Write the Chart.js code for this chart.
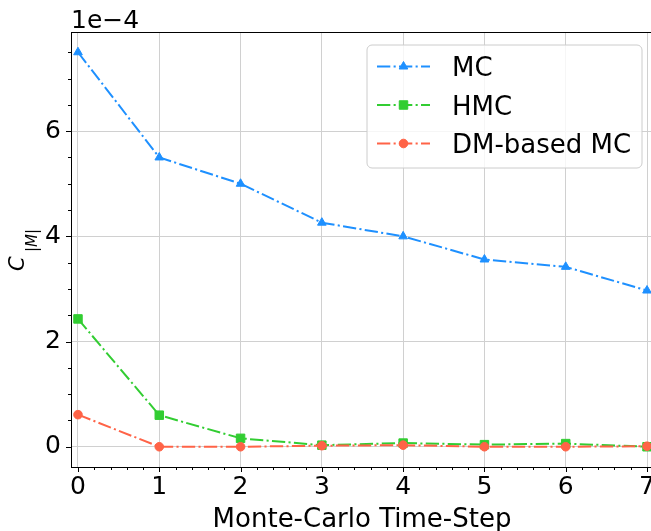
<!DOCTYPE html>
<html><head><meta charset="utf-8">
<script src="https://cdn.jsdelivr.net/npm/chart.js@4"></script>
<style>
html,body{margin:0;padding:0;overflow:hidden;background:#fff;width:651px;height:531px}
#wrap{width:665px;height:531px}
</style></head>
<body><div id="wrap"><canvas id="c" width="665" height="531"></canvas></div>
<script>
// ---- data ----
const steps = [0, 1, 2, 3, 4, 5, 6, 7];
const mcValues  = [7.50e-4, 5.50e-4, 5.00e-4, 4.26e-4, 4.00e-4, 3.56e-4, 3.42e-4, 2.97e-4];
const hmcValues = [2.43e-4, 0.60e-4, 0.16e-4, 0.03e-4, 0.07e-4, 0.04e-4, 0.06e-4, 0.00e-4];
const dmValues  = [0.61e-4, 0.00e-4, 0.00e-4, 0.02e-4, 0.03e-4, 0.00e-4, 0.00e-4, 0.01e-4];
const seriesLabels = ['MC', 'HMC', 'DM-based MC'];
const xTickValues = [0, 1, 2, 3, 4, 5, 6, 7];
const yTickValues = [0, 2e-4, 4e-4, 6e-4];
const yTickLabels = ['0', '2', '4', '6'];
const offsetText = '1e\u22124';
const xTitle = 'Monte-Carlo Time-Step';

// ---- styles ----
const colors = ['#1E90FF', '#32CD32', '#FF6347'];
const pointStyles = ['triangle', 'rect', 'circle'];
const pointRadii = [5.0, 6.0, 4.3];
const dash = [13.3, 3.3, 2.1, 3.3];
const FONT = '"DejaVu Sans", sans-serif';

function series(vals) { return steps.map((x, i) => ({ x: x, y: vals[i] })); }
const allVals = [mcValues, hmcValues, dmValues];

const datasets = allVals.map((vals, k) => ({
  label: seriesLabels[k],
  data: series(vals),
  borderColor: colors[k],
  backgroundColor: colors[k],
  borderWidth: 2,
  borderDash: dash,
  pointStyle: pointStyles[k],
  pointRadius: pointRadii[k],
  pointBackgroundColor: colors[k],
  pointBorderColor: colors[k],
  pointBorderWidth: 1,
  tension: 0,
  fill: false,
  order: 3 - k,
  clip: false
}));

function drawMarker(ctx, style, x, y, r, color) {
  ctx.save();
  ctx.fillStyle = color; ctx.strokeStyle = color; ctx.lineWidth = 1; ctx.setLineDash([]);
  ctx.beginPath();
  if (style === 'triangle') {
    ctx.moveTo(x, y - r);
    ctx.lineTo(x + r * Math.sin(2 * Math.PI / 3), y - r * Math.cos(2 * Math.PI / 3));
    ctx.lineTo(x - r * Math.sin(2 * Math.PI / 3), y - r * Math.cos(2 * Math.PI / 3));
    ctx.closePath();
  } else if (style === 'rect') {
    const s = Math.SQRT1_2 * r;
    ctx.rect(x - s, y - s, 2 * s, 2 * s);
  } else {
    ctx.arc(x, y, r, 0, Math.PI * 2);
  }
  ctx.fill(); ctx.stroke();
  ctx.restore();
}

const decor = {
  id: 'decor',
  afterDraw(chart) {
    const ctx = chart.ctx;
    const a = chart.chartArea;
    const xs = chart.scales.x, ys = chart.scales.y;
    ctx.save();
    // spines
    ctx.strokeStyle = '#000'; ctx.lineWidth = 1; ctx.setLineDash([]);
    ctx.strokeRect(Math.round(a.left) + 0.5, Math.round(a.top) + 0.5,
                   Math.round(a.right - a.left), Math.round(a.bottom - a.top));
    // ticks
    ctx.beginPath();
    for (let v = 0; v <= 7.0001; v += 0.2) {
      const px = Math.round(xs.getPixelForValue(v)) + 0.5;
      const major = Math.abs(v - Math.round(v)) < 1e-6;
      ctx.moveTo(px, a.bottom); ctx.lineTo(px, a.bottom + (major ? 5 : 3));
    }
    for (let v = 0; v <= 7.5001; v += 0.5) {
      const py = Math.round(ys.getPixelForValue(v * 1e-4)) + 0.5;
      const major = Math.abs(v / 2 - Math.round(v / 2)) < 1e-6;
      ctx.moveTo(a.left, py); ctx.lineTo(a.left - (major ? 5 : 3), py);
    }
    ctx.stroke();

    // offset text
    ctx.fillStyle = '#000';
    ctx.font = '25px ' + FONT;
    ctx.textAlign = 'left'; ctx.textBaseline = 'alphabetic';
    ctx.fillText(offsetText, a.left, 28);

    // x title
    ctx.font = '26px ' + FONT;
    ctx.textAlign = 'center';
    ctx.fillText(xTitle, 362, 527);

    // y title C_{|M|}
    ctx.save();
    ctx.translate(24, 271);
    ctx.rotate(-Math.PI / 2);
    ctx.textAlign = 'left';
    ctx.font = 'italic 21px ' + FONT;
    ctx.fillText('C', 0, 0);
    ctx.font = 'italic 15px ' + FONT;
    ctx.fillText('|M|', 19, 12.5);
    ctx.restore();

    // legend
    const lx = 367, ly = 45, lw = 275, lh = 123, rr = 5;
    ctx.beginPath();
    ctx.moveTo(lx + rr, ly);
    ctx.arcTo(lx + lw, ly, lx + lw, ly + lh, rr);
    ctx.arcTo(lx + lw, ly + lh, lx, ly + lh, rr);
    ctx.arcTo(lx, ly + lh, lx, ly, rr);
    ctx.arcTo(lx, ly, lx + lw, ly, rr);
    ctx.closePath();
    ctx.fillStyle = 'rgba(255,255,255,0.8)';
    ctx.fill();
    ctx.strokeStyle = '#cccccc'; ctx.lineWidth = 1;
    ctx.stroke();
    const rows = [66.5, 105, 143.5];
    chart.data.datasets.forEach((ds, k) => {
      const y = rows[k];
      ctx.save();
      ctx.strokeStyle = ds.borderColor; ctx.lineWidth = 2; ctx.setLineDash(dash);
      ctx.beginPath(); ctx.moveTo(377, y); ctx.lineTo(430, y); ctx.stroke();
      ctx.restore();
      drawMarker(ctx, ds.pointStyle, 403.5, y, ds.pointRadius, ds.borderColor);
      ctx.fillStyle = '#000';
      ctx.font = '26px ' + FONT;
      ctx.textAlign = 'left'; ctx.textBaseline = 'alphabetic';
      ctx.fillText(ds.label, 452, y + 9.5);
    });
    ctx.restore();
  }
};

new Chart(document.getElementById('c'), {
  type: 'line',
  data: { datasets: datasets },
  plugins: [decor],
  options: {
    responsive: false,
    animation: false,
    devicePixelRatio: 1,
    layout: { padding: { top: 32, right: 11, left: 0, bottom: 0 } },
    plugins: { legend: { display: false }, tooltip: { enabled: false } },
    scales: {
      x: {
        type: 'linear', min: -0.086, max: 7.086,
        afterBuildTicks: s => { s.ticks = xTickValues.map(v => ({ value: v })); },
        afterFit: s => { s.height = 64; },
        ticks: { color: '#000', font: { family: FONT, size: 25 }, padding: 5,
                 maxRotation: 0, autoSkip: false, callback: v => String(v) },
        grid: { color: '#d0d0d0', lineWidth: 1, drawTicks: false },
        border: { display: true, color: '#000', width: 1 }
      },
      y: {
        type: 'linear', min: -0.385e-4, max: 7.885e-4,
        afterBuildTicks: s => { s.ticks = yTickValues.map(v => ({ value: v })); },
        afterFit: s => { s.width = 71; },
        ticks: { color: '#000', font: { family: FONT, size: 25 }, padding: 10,
                 autoSkip: false, callback: (v, i) => yTickLabels[i] },
        grid: { color: '#d0d0d0', lineWidth: 1, drawTicks: false },
        border: { display: true, color: '#000', width: 1 }
      }
    }
  }
});
</script>
</body></html>
